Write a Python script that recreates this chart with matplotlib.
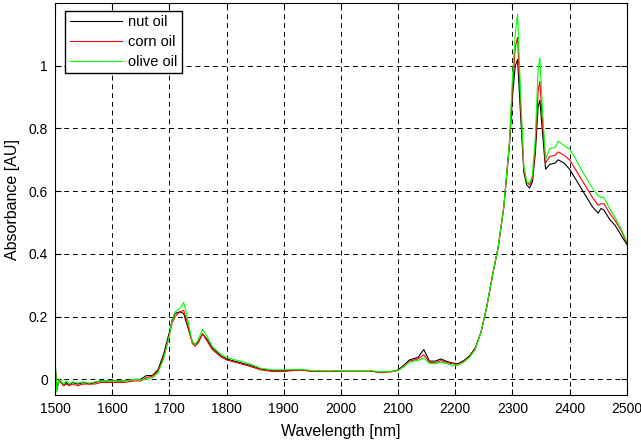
import matplotlib
matplotlib.use("Agg")
import matplotlib.pyplot as plt
from matplotlib.ticker import FuncFormatter

plt.rcParams['font.family'] = ['Liberation Sans', 'DejaVu Sans']

wavelength = [1500, 1503, 1507, 1510, 1515, 1520, 1525, 1530, 1540, 1550,
              1560, 1570, 1580, 1600, 1620, 1640, 1650, 1660, 1670, 1680,
              1690, 1700, 1705, 1710, 1718, 1725, 1730, 1740, 1745, 1750,
              1758, 1765, 1775, 1790, 1800, 1820, 1840, 1860, 1880, 1900,
              1930, 1950, 1980, 2000, 2020, 2050, 2070, 2090, 2100, 2110,
              2120, 2135, 2145, 2155, 2165, 2175, 2185, 2195, 2205, 2215,
              2225, 2235, 2245, 2255, 2265, 2275, 2285, 2295, 2300, 2305,
              2309, 2315, 2320, 2325, 2330, 2335, 2340, 2345, 2348, 2352,
              2358, 2365, 2375, 2380, 2390, 2400, 2410, 2420, 2430, 2440,
              2450, 2455, 2460, 2470, 2480, 2490, 2500]

nut_oil = [0.06, -0.03, 0.0, -0.005, -0.02, -0.01, -0.02, -0.01, -0.015, -0.01,
           -0.015, -0.01, -0.005, -0.005, -0.005, 0.0, 0.0, 0.012, 0.012, 0.03,
           0.08, 0.15, 0.19, 0.21, 0.215, 0.21, 0.18, 0.12, 0.11, 0.118,
           0.145, 0.13, 0.10, 0.075, 0.065, 0.055, 0.045, 0.033, 0.028, 0.028,
           0.03, 0.026, 0.025, 0.027, 0.027, 0.027, 0.022, 0.025, 0.03, 0.045,
           0.062, 0.07, 0.095, 0.058, 0.058, 0.065, 0.057, 0.052, 0.05, 0.06,
           0.075, 0.1, 0.15, 0.23, 0.33, 0.42, 0.55, 0.75, 0.9, 1.0,
           1.02, 0.82, 0.66, 0.62, 0.61, 0.63, 0.72, 0.87, 0.89, 0.8,
           0.67, 0.685, 0.69, 0.70, 0.69, 0.67, 0.64, 0.61, 0.58, 0.55,
           0.53, 0.545, 0.54, 0.51, 0.49, 0.46, 0.43]

corn_oil = [0.05, -0.035, -0.005, -0.01, -0.02, -0.015, -0.02, -0.015, -0.02, -0.015,
            -0.015, -0.015, -0.01, -0.01, -0.01, -0.005, -0.005, 0.005, 0.01, 0.025,
            0.07, 0.14, 0.18, 0.2, 0.215, 0.22, 0.19, 0.115, 0.105, 0.115,
            0.145, 0.125, 0.095, 0.072, 0.062, 0.052, 0.042, 0.03, 0.025, 0.025,
            0.03, 0.025, 0.025, 0.027, 0.027, 0.027, 0.022, 0.025, 0.028, 0.042,
            0.058, 0.065, 0.078, 0.055, 0.052, 0.06, 0.053, 0.05, 0.048, 0.058,
            0.072, 0.098, 0.15, 0.23, 0.33, 0.42, 0.55, 0.76, 0.93, 1.06,
            1.09, 0.85, 0.67, 0.63, 0.62, 0.64, 0.74, 0.92, 0.95, 0.84,
            0.69, 0.71, 0.715, 0.725, 0.715, 0.70, 0.67, 0.64, 0.61, 0.58,
            0.555, 0.56, 0.56, 0.53, 0.505, 0.475, 0.435]

olive_oil = [0.07, -0.04, 0.0, -0.005, -0.015, -0.005, -0.015, -0.008, -0.012, -0.008,
             -0.012, -0.008, -0.005, -0.005, -0.005, 0.0, -0.002, 0.0, 0.005, 0.02,
             0.065, 0.14, 0.19, 0.215, 0.225, 0.245, 0.21, 0.12, 0.11, 0.125,
             0.16, 0.14, 0.105, 0.08, 0.07, 0.06, 0.05, 0.035, 0.03, 0.03,
             0.032, 0.028, 0.027, 0.028, 0.028, 0.028, 0.024, 0.026, 0.028, 0.04,
             0.055, 0.06, 0.068, 0.05, 0.05, 0.055, 0.05, 0.045, 0.045, 0.055,
             0.07, 0.095, 0.15, 0.23, 0.33, 0.42, 0.55, 0.76, 0.96, 1.1,
             1.165, 0.88, 0.68, 0.63, 0.625, 0.65, 0.77, 0.99, 1.025, 0.88,
             0.70, 0.735, 0.74, 0.76, 0.745, 0.735, 0.705, 0.67, 0.64, 0.61,
             0.585, 0.58, 0.58, 0.545, 0.515, 0.48, 0.44]

series_names = ['nut oil', 'corn oil', 'olive oil']
series_colors = ['black', '#ff0000', '#00ff00']
x_ticks = [1500, 1600, 1700, 1800, 1900, 2000, 2100, 2200, 2300, 2400, 2500]
y_ticks = [0, 0.2, 0.4, 0.6, 0.8, 1.0]

fig = plt.figure(figsize=(6.41, 4.46), dpi=100)
ax = fig.add_axes([0.0858, 0.1143, 0.892, 0.879])

for vals, name, col in zip([nut_oil, corn_oil, olive_oil], series_names, series_colors):
    ax.plot(wavelength, vals, color=col, lw=0.8, label=name)

ax.set_xlim(1500, 2500)
ax.set_ylim(-0.05, 1.2)
ax.set_xticks(x_ticks)
ax.set_yticks(y_ticks)
ax.yaxis.set_major_formatter(FuncFormatter(lambda v, p: '%g' % v))
ax.tick_params(direction='in', length=4, labelsize=10, width=0.8, pad=5)
ax.tick_params(top=True, right=True)
ax.grid(True, color='black', linestyle=(0, (5, 4)), linewidth=0.7)
for s in ax.spines.values():
    s.set_linewidth(0.8)
ax.set_xlabel('Wavelength [nm]', fontsize=11.5, labelpad=6)
ax.set_ylabel('Absorbance [AU]', fontsize=11.5, labelpad=6)

leg = ax.legend(loc='upper left', fontsize=10.5, fancybox=False, edgecolor='black',
                framealpha=1, handlelength=3.6, borderpad=0.3, labelspacing=0.4,
                handletextpad=0.4, borderaxespad=0, bbox_to_anchor=(0.018, 0.98))
leg.get_frame().set_linewidth(1.0)

fig.savefig('out.png', dpi=100)
